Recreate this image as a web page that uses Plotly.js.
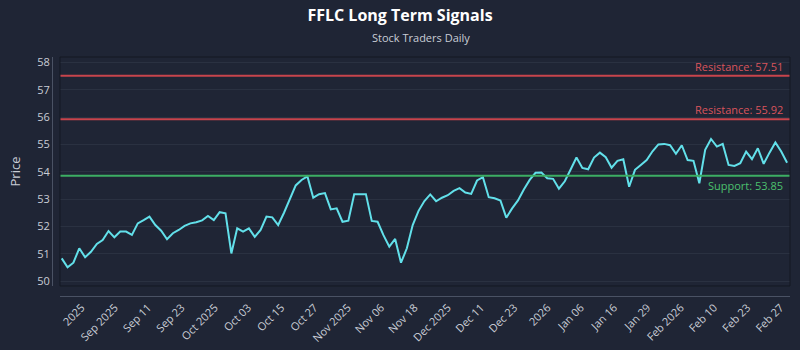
<!DOCTYPE html>
<html>
<head>
<meta charset="utf-8">
<script src="https://cdn.plot.ly/plotly-3.0.1.min.js"></script>
<style>
html,body{margin:0;padding:0;background:#1f2535;}
#chart{width:800px;height:350px;}
</style>
</head>
<body>
<div id="chart"></div>
<script>
// ---- data ----
const prices = [
  50.83, 50.50, 50.67, 51.20, 50.87, 51.07, 51.36, 51.50, 51.83, 51.60,
  51.81, 51.81, 51.69, 52.11, 52.23, 52.36, 52.05, 51.84, 51.53, 51.75,
  51.87, 52.02, 52.11, 52.15, 52.22, 52.38, 52.23, 52.52, 52.48, 51.01,
  51.93, 51.81, 51.93, 51.62, 51.87, 52.36, 52.33, 52.05, 52.50, 53.00,
  53.50, 53.70, 53.83, 53.05, 53.18, 53.22, 52.62, 52.66, 52.17, 52.21,
  53.18, 53.18, 53.18, 52.20, 52.17, 51.68, 51.26, 51.54, 50.67, 51.20,
  52.05, 52.57, 52.93, 53.17, 52.92, 53.05, 53.14, 53.30, 53.40, 53.24,
  53.19, 53.68, 53.80, 53.07, 53.03, 52.95, 52.32, 52.66, 52.95, 53.35,
  53.70, 53.96, 53.97, 53.76, 53.74, 53.38, 53.65, 54.08, 54.52, 54.14,
  54.09, 54.52, 54.70, 54.53, 54.15, 54.40, 54.46, 53.45, 54.07, 54.25,
  54.43, 54.75, 55.00, 55.02, 54.97, 54.66, 54.97, 54.43, 54.40, 53.58,
  54.80, 55.20, 54.92, 55.02, 54.25, 54.21, 54.31, 54.74, 54.46, 54.86,
  54.29, 54.70, 55.07, 54.74, 54.33
];
const tickLabels = [
  "2025", "Sep 2025", "Sep 11", "Sep 23", "Oct 2025", "Oct 03", "Oct 15", "Oct 27",
  "Nov 2025", "Nov 06", "Nov 18", "Dec 2025", "Dec 11", "Dec 23", "2026", "Jan 06",
  "Jan 16", "Jan 29", "Feb 2026", "Feb 10", "Feb 23", "Feb 27"
];
const resistanceLevels = [57.51, 55.92];
const supportLevels = [53.85];
const yTicks = [50, 51, 52, 53, 54, 55, 56, 57, 58];

// ---- build ----
const xIdx = prices.map((_, i) => i);
const tickStart = 3.4, tickStep = 5.69;
const tickVals = tickLabels.map((_, k) => tickStart + k * tickStep);

const shapes = [];
const annotations = [];
const red = '#c8444c', redText = '#d9545c';
const green = '#3cae63', greenText = '#4cc06e';

resistanceLevels.forEach(v => {
  shapes.push({type:'line', xref:'x domain', x0:0, x1:1, yref:'y', y0:v, y1:v,
    line:{color:red, width:2}});
  annotations.push({xref:'x domain', x:0.993, yref:'y', y:v, xanchor:'right', yanchor:'bottom',
    text:'Resistance: ' + v.toFixed(2), showarrow:false,
    font:{family:'Open Sans, sans-serif', size:11, color:redText}});
});
supportLevels.forEach(v => {
  shapes.push({type:'line', xref:'x domain', x0:0, x1:1, yref:'y', y0:v, y1:v,
    line:{color:green, width:2}});
  annotations.push({xref:'x domain', x:0.993, yref:'y', y:v, xanchor:'right', yanchor:'top',
    text:'Support: ' + v.toFixed(2), showarrow:false,
    font:{family:'Open Sans, sans-serif', size:11, color:greenText}});
});
shapes.push({type:'rect', xref:'x domain', x0:0, x1:1, yref:'y domain', y0:0, y1:1,
  line:{color:'#141923', width:1}, layer:'above'});

// subtitle (paper area spans y 57..296 px)
annotations.push({xref:'paper', yref:'paper', x:0.5, y:(296 - 38) / 239, xanchor:'center', yanchor:'middle',
  text:'Stock Traders Daily', showarrow:false,
  font:{family:'Open Sans, sans-serif', size:11, color:'#c9cdd6'}});

const trace = {
  x: xIdx, y: prices, type:'scatter', mode:'lines',
  line:{color:'#62e0ea', width:2}, hoverinfo:'skip'
};

const layout = {
  width:800, height:350,
  paper_bgcolor:'#1f2535', plot_bgcolor:'#1f2535',
  margin:{l:52, r:10, t:57, b:54},
  font:{family:'Open Sans, sans-serif', color:'#c9cdd6'},
  title:{text:'<b>FFLC Long Term Signals</b>', x:0.5, xanchor:'center', y:1 - 15/350, yanchor:'middle',
    font:{family:'Open Sans, sans-serif', size:16, color:'#ffffff'}},
  showlegend:false,
  xaxis:{
    domain:[0.0108, 1], anchor:'free', position:0,
    range:[-0.3, 124.5], showgrid:false, zeroline:false,
    showline:true, linecolor:'#4a5264', linewidth:1,
    tickmode:'array', tickvals:tickVals, ticktext:tickLabels, tickangle:-45,
    ticks:'', tickfont:{size:11, color:'#c9cdd6'}
  },
  yaxis:{
    domain:[0.042, 1], anchor:'free', position:0,
    range:[49.82, 58.2], showgrid:true, gridcolor:'#2a3141', gridwidth:1, zeroline:false,
    showline:true, linecolor:'#4a5264', linewidth:1,
    tickmode:'array', tickvals:yTicks, ticks:'',
    tickfont:{size:11, color:'#c9cdd6'},
    title:{text:'Price', font:{size:13, color:'#c9cdd6'}, standoff:12}
  },
  shapes: shapes,
  annotations: annotations
};

Plotly.newPlot('chart', [trace], layout, {displayModeBar:false, staticPlot:true});
</script>
</body>
</html>
